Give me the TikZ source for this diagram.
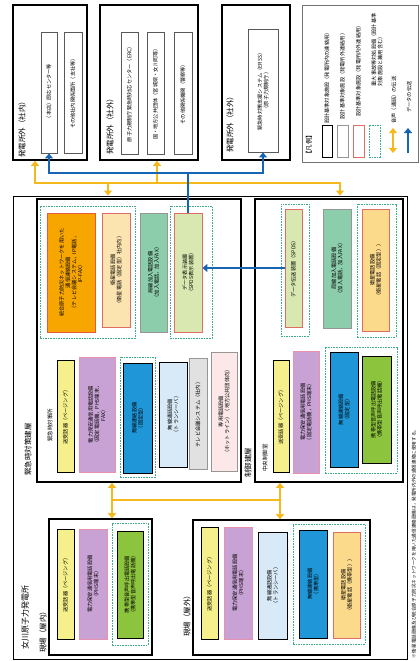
\documentclass[tikz,border=0pt]{standalone}
\usepackage{fontspec}
\setmainfont{Noto Sans CJK JP}
\usetikzlibrary{arrows.meta,fit}
\definecolor{cOrange}{RGB}{247,166,0}
\definecolor{cOrangeB}{RGB}{228,92,60}
\definecolor{cCream}{RGB}{252,228,176}
\definecolor{cLOrange}{RGB}{252,218,140}
\definecolor{cRedB}{RGB}{222,110,100}
\definecolor{cTeal}{RGB}{140,205,172}
\definecolor{cLGreen}{RGB}{216,232,176}
\definecolor{cYellow}{RGB}{245,240,140}
\definecolor{cPurple}{RGB}{200,162,212}
\definecolor{cPurpleB}{RGB}{232,145,175}
\definecolor{cBlue}{RGB}{30,150,216}
\definecolor{cLBlue}{RGB}{216,234,248}
\definecolor{cGray}{RGB}{225,225,225}
\definecolor{cGrayB}{RGB}{150,150,150}
\definecolor{cLPink}{RGB}{252,232,232}
\definecolor{cGreen}{RGB}{140,196,62}
\definecolor{cGrp}{RGB}{60,170,140}
\definecolor{cYel}{RGB}{245,185,30}
\definecolor{cBlu}{RGB}{22,100,180}
\tikzset{
  txt/.style={rotate=90, align=center, font=\fontsize{5.2}{6.2}\selectfont, inner sep=0pt},
  lab/.style={rotate=90, anchor=west, font=\fontsize{7.5}{8}\selectfont, inner sep=0pt},
  slab/.style={rotate=90, anchor=west, font=\fontsize{5.5}{6}\selectfont, inner sep=0pt},
  bigbox/.style={draw=black, line width=1.6pt},
  offbox/.style={draw=black!65, line width=0.9pt, fill=white},
  grp/.style={draw=cGrp, line width=0.8pt, dash pattern=on 1.6pt off 1pt},
  eq/.style 2 args={fill=#1, draw=#2, line width=0.8pt},
  yl/.style={draw=cYel, line width=2.8pt},
  bl/.style={draw=cBlu, line width=2.8pt},
  tip/.style={-{Triangle[length=5pt,width=8pt]}},
  tipboth/.style={{Triangle[length=5pt,width=8pt]}-{Triangle[length=5pt,width=8pt]}},
}
\newcommand{\bx}[7]{\node[fit={(#2,#3) (#4,#5)}, inner sep=0pt, #6] (#1) {};
  \node[txt] (#1t) at (#1.center) {#7};}
\newcommand{\gx}[5]{\node[fit={(#2,#3) (#4,#5)}, inner sep=0pt, grp] (#1) {};}
\begin{document}
\begin{tikzpicture}[x=1pt,y=-1pt]
\useasboundingbox (0,0) rectangle (420,661);
\fill[white] (0,0) rectangle (420,661);

% ---------- off-site boxes ----------
\node[fit={(13,5) (87,160)}, inner sep=0pt, bigbox] (so1) {};
\bx{tl1}{41}{32}{57}{153}{offbox}{（本店）即応センター等}
\bx{tl2}{64}{32}{82}{153}{offbox}{その他社内関係箇所（支社等）}
\node[lab] (so1l) at (22,158) {発電所外（社内）};

\node[fit={(100,5) (198,160)}, inner sep=0pt, bigbox] (so2) {};
\bx{tm1}{121}{32}{138}{154}{offbox}{原子力規制庁緊急時対応センター（ERC）}
\bx{tm2}{147}{32}{164}{154}{offbox}{国・地方公共団体（宮城県・女川町等）}
\bx{tm3}{174}{32}{192}{154}{offbox}{その他関係機関（警察等）}
\node[lab] (so2l) at (110,155) {発電所外（社外）};

\node[fit={(222,5) (290,160)}, inner sep=0pt, bigbox] (so3) {};
\bx{tr1}{248}{29}{278}{152}{offbox}{緊急時対策支援システム（ERSS）\\（原子力規制庁）}
\node[lab] (so3l) at (230,153) {発電所外（社外）};

% ---------- legend ----------
\node[fit={(302,5) (418,162)}, inner sep=0pt, draw=black!55, line width=0.8pt] (leg) {};
\node[lab, font=\fontsize{6.5}{7}\selectfont] (legt) at (309,158) {【凡例】};
\node[fit={(322,125) (332,157)}, inner sep=0pt, draw=black, line width=1pt] (lk1) {};
\node[txt] (lk1t) at (327,77) {設計基準対象施設（発電所内の連絡用）};
\node[fit={(337,125) (348,157)}, inner sep=0pt, draw=cGrayB, line width=1pt] (lk2) {};
\node[txt] (lk2t) at (342.5,75) {設計基準対象施設（発電所外連絡用）};
\node[fit={(353,125) (364,157)}, inner sep=0pt, draw=cRedB, line width=1pt] (lk3) {};
\node[txt] (lk3t) at (358.5,70) {設計基準対象施設（発電所内外連絡用）};
\node[fit={(369,125) (380,157)}, inner sep=0pt, grp] (lk4) {};
\node[txt, align=left] (lk4t) at (377,50) {重大事故等対処設備（設計基準\\対象施設と兼用含む）};
\coordinate (la1) at (393,153);
\coordinate (la2) at (393,128);
\draw[yl, line width=2.4pt, tipboth] (la1) -- (la2);
\node[txt] (la1t) at (394,100) {音声（通話）の伝送};
\coordinate (lb1) at (408,153);
\coordinate (lb2) at (408,128);
\draw[bl, line width=2.4pt, tip] (lb1) -- (lb2);
\node[txt] (lb1t) at (409,97) {データの伝送};

% ---------- plant ----------
\node[fit={(13,196) (407,659.5)}, inner sep=0pt, draw=black, line width=0.9pt] (Pl) {};
\node[lab, font=\fontsize{8}{9}\selectfont] (pll) at (25,650) {女川原子力発電所};
\node[fit={(37,199) (241,482)}, inner sep=0pt, bigbox] (EOF) {};
\node[fit={(255,199) (403,482)}, inner sep=0pt, bigbox] (CR) {};
\node[lab] (eobl) at (28,476) {緊急時対策建屋};
\node[slab] (eofl) at (50,442) {緊急時対策所};
\node[lab] (crbl) at (248,478) {制御建屋};
\node[slab] (crl) at (265,472) {中央制御室};

% EOF upper
\gx{gE1}{40}{206}{135}{338}
\gx{gE2}{170}{206}{212}{338}
\bx{orE}{47}{213}{95}{332}{eq={cOrange}{cOrangeB}}{統合原子力防災ネットワークを用いた\\通信連絡設備\\（テレビ会議システム，IP電話，\\IP-FAX）}
\bx{crE}{102}{213}{130}{327}{eq={cCream}{cRedB}}{衛星電話設備\\（衛星電話（固定型）社内向）}
\bx{tlE}{140}{213}{167}{332}{eq={cTeal}{cGrayB}}{局線加入電話設備\\（加入電話，加入FAX）}
\bx{lgE}{174}{213}{202}{332}{eq={cLGreen}{cRedB}}{データ表示装置\\（SPDS表示装置）}
% EOF lower
\gx{gE3}{120}{357}{155}{477}
\bx{yeE}{57}{360}{74}{472}{eq={cYellow}{black}}{送受話器（ページング）}
\bx{puE}{79}{357}{115}{472}{eq={cPurple}{cPurpleB}}{電力保安通信用電話設備\\（固定電話機，PHS端末，\\FAX）}
\bx{blE}{123}{363}{152}{473}{eq={cBlue}{black}}{無線連絡設備\\（固定型）}
\bx{lbE}{159}{362}{187}{467}{eq={cLBlue}{black}}{無線通話設備\\（トランシーバ）}
\bx{gyE}{189}{358}{207}{469}{eq={cGray}{cGrayB}}{テレビ会議システム（社内）}
\bx{lpE}{211}{352}{237}{471}{eq={cLPink}{cGrayB}}{専用電話設備\\（ホットライン）（地方公共団体向）}

% CR upper
\gx{gC1}{281}{204}{309}{336}
\gx{gC2}{357}{204}{396}{337}
\bx{lgC}{285}{209}{302}{327}{eq={cLGreen}{cRedB}}{データ伝送装置（SPDS）}
\bx{tlC}{323}{209}{351}{328}{eq={cTeal}{cGrayB}}{局線加入電話設備\\（加入電話，加入FAX）}
\bx{loC}{362}{209}{389}{331}{eq={cLOrange}{cRedB}}{衛星電話設備\\（衛星電話（固定型））}
% CR lower
\gx{gC3}{325}{347}{397}{473}
\bx{yeC}{273}{360}{289}{472}{eq={cYellow}{black}}{送受話器（ページング）}
\bx{puC}{293}{351}{319}{473}{eq={cPurple}{cPurpleB}}{電力保安通信用電話設備\\（固定電話機，PHS端末）}
\bx{blC}{330}{352}{358}{467}{eq={cBlue}{black}}{無線連絡設備\\（固定型）}
\bx{grC}{362}{356}{391}{463}{eq={cGreen}{black}}{携帯型音声呼出電話設備\\（携帯型音声呼出電話機）}

% field (indoor)
\node[fit={(49,519) (152,655)}, inner sep=0pt, bigbox] (FI) {};
\node[lab] (fil) at (43,653) {現場（屋内）};
\gx{gI}{112}{523}{148}{645}
\bx{yeI}{57}{529}{74}{639}{eq={cYellow}{black}}{送受話器（ページング）}
\bx{puI}{79}{529}{107}{639}{eq={cPurple}{cPurpleB}}{電力保安通信用電話設備\\（PHS端末）}
\bx{grI}{117}{531}{143}{638}{eq={cGreen}{black}}{携帯型音声呼出電話設備\\（携帯型音声呼出電話機）}

% field (outdoor)
\node[fit={(193,520) (370,655)}, inner sep=0pt, bigbox] (FO) {};
\node[lab] (fol) at (187,637) {現場（屋外）};
\gx{gO}{293}{524}{365}{644}
\bx{yeO}{201}{527}{218}{639}{eq={cYellow}{black}}{送受話器（ページング）}
\bx{puO}{224}{527}{252}{639}{eq={cPurple}{cPurpleB}}{電力保安通信用電話設備\\（PHS端末）}
\bx{lbO}{258}{532}{287}{639}{eq={cLBlue}{black}}{無線通話設備\\（トランシーバ）}
\bx{blO}{299}{530}{327}{638}{eq={cBlue}{black}}{無線連絡設備\\（携帯型）}
\bx{loO}{333}{532}{360}{638}{eq={cLOrange}{cRedB}}{衛星電話設備\\（衛星電話（携帯型））}

\node[lab, font=\fontsize{4.6}{5}\selectfont] (fn) at (414,659) {※ 衛星電話設備及び統合原子力防災ネットワークを用いた通信連絡設備は，発電所内外の通信連絡に使用する。};

% ---------- connectors ----------
\coordinate (ya) at (35,183);
\coordinate (yb) at (157,183);
\coordinate (yc) at (108,183);
\coordinate (yd) at (340,183);
\draw[yl, tipboth] (ya |- so1.south) -- (ya) -- (yd) -- (yd |- Pl.north);
\draw[yl, tip] (yb) -- (yb |- so2.south);
\draw[yl, tip] (yc) -- (yc |- Pl.north);

\coordinate (ya2) at (112,500);
\coordinate (yb2) at (280,500);
\draw[yl, tipboth] (ya2 |- EOF.south) -- (ya2 |- FI.north);
\draw[yl, tipboth] (yb2 |- CR.south) -- (yb2 |- FO.north);
\draw[yl] (ya2) -- (yb2);

\coordinate (bj) at (188,173);
\draw[bl, tipboth] (tl1.south) -- (tl1.south |- bj) -- (tr1.south |- bj) -- (tr1.south);
\draw[bl] (lgE.north) -- (lgE.north |- bj);
\draw[bl, tip] (lgC.west) -- (lgC.west -| lgE.east);
\end{tikzpicture}
\end{document}
